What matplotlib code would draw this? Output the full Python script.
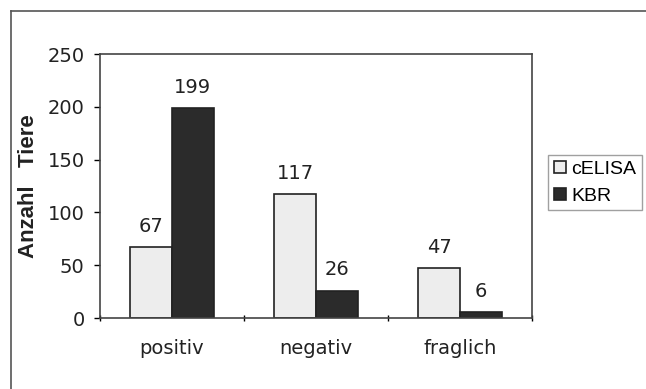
import numpy as np
import matplotlib.pyplot as plt
from matplotlib.lines import Line2D

categories = ['positiv', 'negativ', 'fraglich']
celisa = [67, 117, 47]
kbr = [199, 26, 6]
series_names = ['cELISA', 'KBR']
yticks = [0, 50, 100, 150, 200, 250]

plt.rcParams['font.family'] = ['DejaVu Sans']

W, H = 646, 389
fig = plt.figure(figsize=(W / 100, H / 100), dpi=100)

# outer frame: only left and top edges are visible in the scan
fx, fy = 11 / W, 1 - 11 / H
fig.lines.append(Line2D([fx, fx], [-0.05, fy], transform=fig.transFigure, color='#555555', lw=1.2))
fig.lines.append(Line2D([fx, 1.05], [fy, fy], transform=fig.transFigure, color='#555555', lw=1.2))

ax = fig.add_axes([100 / W, 1 - 318 / H, 432 / W, 264 / H])

x = np.arange(len(categories))
bw = 0.29
b1 = ax.bar(x - bw / 2, celisa, bw, color='#ededed', edgecolor='#222222', linewidth=1.2,
            label=series_names[0])
b2 = ax.bar(x + bw / 2, kbr, bw, color='#2b2b2b', edgecolor='#222222', linewidth=1.2,
            label=series_names[1])

for bars, vals in ((b1, celisa), (b2, kbr)):
    for r, v in zip(bars, vals):
        ax.annotate(str(v), (r.get_x() + r.get_width() / 2, v), xytext=(0, 8),
                    textcoords='offset points', ha='center', va='bottom', fontsize=14,
                    color='#222222')

ax.set_xlim(-0.5, 2.5)
ax.set_ylim(0, 250)
ax.set_yticks(yticks)
ax.tick_params(axis='y', labelsize=14, length=4, width=1, pad=7, labelcolor='#222222')
ax.set_xticks(x)
ax.set_xticklabels(categories)
ax.tick_params(axis='x', which='major', length=0, labelsize=14, pad=15, labelcolor='#222222')
ax.set_xticks([-0.5, 0.5, 1.5, 2.5], minor=True)
ax.tick_params(axis='x', which='minor', length=5, width=1, direction='inout')

for s in ax.spines.values():
    s.set_color('#444444')
    s.set_linewidth(1.2)

ax.set_ylabel('Anzahl   Tiere', fontsize=16, fontweight='bold', labelpad=6,
              family='Liberation Sans', color='#222222')

ax.legend(loc='upper left', bbox_to_anchor=(548 / W, 1 - 155 / H), bbox_transform=fig.transFigure,
          prop={'family': 'Liberation Sans', 'size': 14}, frameon=True, fancybox=False,
          edgecolor='#888888', handlelength=0.6, handleheight=0.6, handletextpad=0.3,
          borderpad=0.3, labelspacing=0.5, borderaxespad=0)

fig.savefig('out.png', dpi=100)
